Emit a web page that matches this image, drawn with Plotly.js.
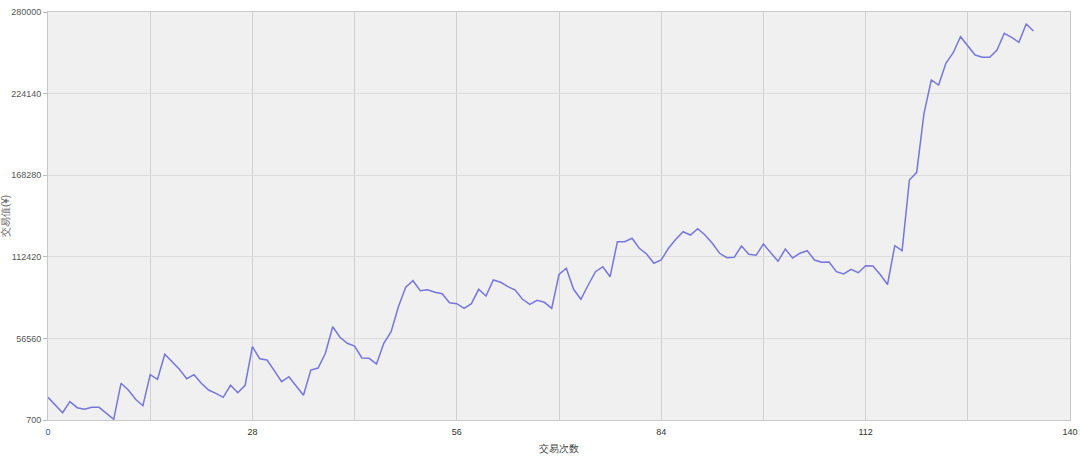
<!DOCTYPE html>
<html>
<head>
<meta charset="utf-8">
<script src="https://cdn.plot.ly/plotly-3.0.1.min.js"></script>
<style>
html,body{margin:0;padding:0;background:#fff;}
#chart{width:1080px;height:459px;}
</style>
</head>
<body>
<div id="chart"></div>
<script>
// Trade values (one per trade, index 0..135)
const tradeValues = [
  16240, 10970, 5700, 13230, 9120, 8020, 9390, 9390, 5290, 1180,
  25820, 21240, 14870, 10490, 31710, 28560, 45680, 40610, 35410, 28970,
  31710, 25820, 21240, 18980, 16240, 24450, 19390, 24450, 50880, 42660,
  41770, 34450, 26920, 30340, 23980, 17610, 34930, 36300, 46360, 64570,
  57310, 53210, 51360, 43140, 42940, 39040, 53210, 61150, 78260, 91540,
  96060, 89210, 89900, 88120, 87160, 81000, 80310, 77170, 80310, 90170,
  85590, 96540, 94960, 91950, 89690, 83330, 79900, 82640, 81270, 77170,
  100300, 104550, 90170, 83330, 93120, 102220, 105640, 98800, 122760, 122760,
  125080, 118240, 114340, 107970, 110230, 118240, 124400, 129600, 127340, 131660,
  127340, 121660, 114820, 111800, 112080, 119810, 114130, 113450, 121180, 115500,
  109340, 117760, 111600, 114820, 116600, 110230, 108660, 108860, 102220, 100650,
  103860, 101540, 106330, 106120, 100300, 93460, 120020, 116600, 164990, 170270,
  210660, 233450, 230030, 244880, 252140, 263090, 256730, 250560, 248990, 248990,
  253990, 265420, 262680, 259260, 271790, 266990
];
const tradeIndex = tradeValues.map((_, i) => i);

const yTickVals = [700, 56560, 112420, 168280, 224140, 280000];
const yTickText = ['700', '56560', '112420', '168280', '224140', '280000'];
const xTickVals = [0, 28, 56, 84, 112, 140];
const xTickText = ['<span style="color:#3060b0">0</span>', '28', '56', '84', '112', '140'];

const xTitle = '交易次数';
const yTitle = '交易值(¥)';

const trace = {
  x: tradeIndex,
  y: tradeValues,
  type: 'scatter',
  mode: 'lines',
  line: {color: '#7676dc', width: 1.5},
  hoverinfo: 'x+y'
};

const layout = {
  width: 1080,
  height: 459,
  margin: {l: 48, r: 10, t: 12, b: 39},
  paper_bgcolor: '#ffffff',
  plot_bgcolor: '#f0f0f0',
  showlegend: false,
  font: {family: 'Liberation Sans, Arial, sans-serif', size: 9, color: '#444'},
  xaxis: {
    range: [0, 140],
    tickmode: 'array',
    tickvals: xTickVals,
    ticktext: xTickText,
    showgrid: true,
    gridcolor: '#d0d0d0',
    gridwidth: 1,
    minor: {dtick: 14, tick0: 0, showgrid: true, gridcolor: '#d0d0d0', gridwidth: 1, ticks: ''},
    zeroline: false,
    showline: true,
    linecolor: '#c8c8c8',
    linewidth: 1,
    mirror: true,
    ticks: '',
    ticklabelstandoff: 3,
    tickfont: {size: 9, color: '#333'},
    title: {text: xTitle, font: {size: 10, color: '#444'}, standoff: 9}
  },
  yaxis: {
    range: [700, 280000],
    tickmode: 'array',
    tickvals: yTickVals,
    ticktext: yTickText,
    showgrid: true,
    gridcolor: '#dcdcdc',
    gridwidth: 1,
    zeroline: false,
    showline: true,
    linecolor: '#c8c8c8',
    linewidth: 1,
    mirror: true,
    ticks: 'outside',
    ticklen: 4,
    tickcolor: '#bbbbbb',
    tickfont: {size: 9, color: '#555'},
    title: {text: yTitle, font: {size: 10, color: '#666'}, standoff: 5}
  }
};

Plotly.newPlot('chart', [trace], layout, {displayModeBar: false, staticPlot: true});
</script>
</body>
</html>
